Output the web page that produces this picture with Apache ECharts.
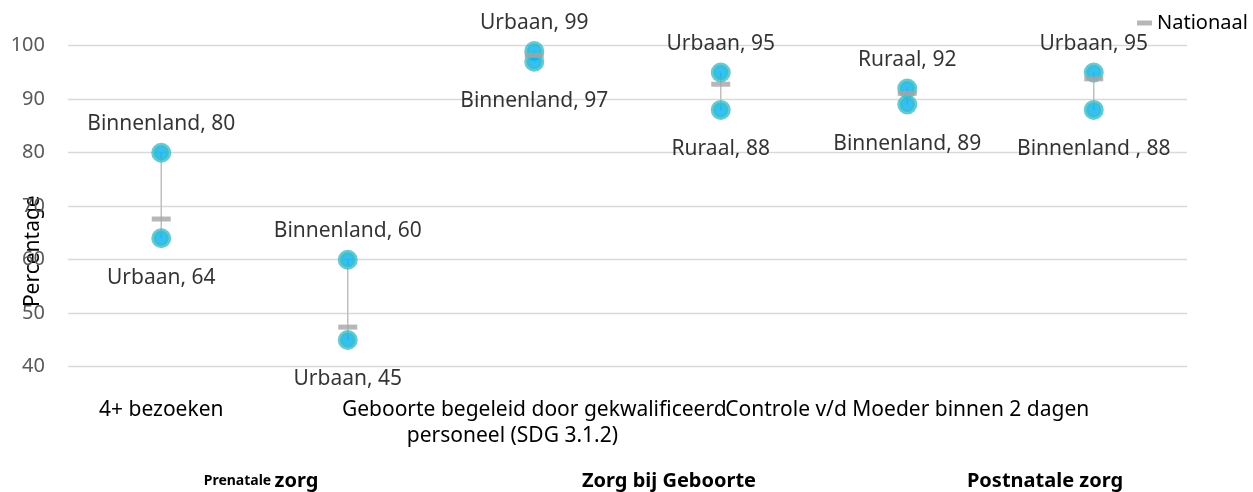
<!DOCTYPE html>
<html>
<head>
<meta charset="utf-8">
<script src="https://cdn.jsdelivr.net/npm/echarts@6/dist/echarts.min.js"></script>
<style>
  html, body { margin: 0; padding: 0; background: #fff; }
  #main { width: 1253px; height: 492px; }
</style>
</head>
<body>
<div id="main"></div>
<script>
// six indicators; only every other one carries a label on the axis
var categories = ['4+ bezoeken', '', 'Geboorte begeleid door gekwalificeerd\npersoneel (SDG 3.1.2)\u00a0\u00a0\u00a0\u00a0\u00a0\u00a0\u00a0\u00a0', '', 'Controle v/d Moeder binnen 2 dagen', ''];
var highValues = [80, 60, 99, 95, 92, 95];
var highNames = ['Binnenland', 'Binnenland', 'Urbaan', 'Urbaan', 'Ruraal', 'Urbaan'];
var lowValues = [64, 45, 97, 88, 89, 88];
var lowNames = ['Urbaan', 'Urbaan', 'Binnenland', 'Ruraal', 'Binnenland', 'Binnenland '];
var nationaal = [67.6, 47.4, 98.2, 92.8, 91.1, 93.8];
var groupLabels = ['Prenatale zorg', 'Zorg bij Geboorte', 'Postnatale zorg'];

var FONT = '"Noto Sans", sans-serif';

var rangeData = categories.map(function (c, i) { return [i, lowValues[i], highValues[i]]; });

var myChart = echarts.init(document.getElementById('main'));

var pointStyle = {
    color: '#00b0f0',
    borderColor: '#3dbdcc',
    borderWidth: 5
};

myChart.setOption({
    animation: false,
    textStyle: { fontFamily: FONT },
    grid: { left: 68, right: 66, top: 45.7, bottom: 125.3, outerBoundsMode: 'none' },
    legend: {
        data: ['Nationaal'],
        left: 1132,
        top: 8,
        itemWidth: 15,
        itemHeight: 5,
        itemGap: 5,
        icon: 'rect',
        textStyle: { fontFamily: FONT, fontSize: 20, color: '#000' }
    },
    xAxis: {
        type: 'category',
        data: categories,
        axisLine: { show: false },
        axisTick: { show: false },
        axisLabel: {
            interval: 0,
            hideOverlap: false,
            margin: 30,
            fontFamily: FONT,
            fontSize: 21,
            lineHeight: 26,
            color: '#000'
        }
    },
    yAxis: {
        type: 'value',
        min: 40,
        max: 100,
        interval: 10,
        name: 'Percentage',
        nameLocation: 'middle',
        nameRotate: 90,
        nameGap: 24,
        nameMoveOverlap: false,
        nameTextStyle: { fontFamily: FONT, fontSize: 21, color: '#000', padding: [0, 90, 0, 0] },
        axisLine: { show: false },
        axisTick: { show: false },
        axisLabel: { fontFamily: FONT, fontSize: 20, color: '#595959', margin: 23 },
        splitLine: { lineStyle: { color: '#d9d9d9', width: 1.3 } }
    },
    series: [
        {
            name: 'range',
            type: 'custom',
            data: rangeData,
            renderItem: function (params, api) {
                var p1 = api.coord([api.value(0), api.value(1)]);
                var p2 = api.coord([api.value(0), api.value(2)]);
                return {
                    type: 'line',
                    shape: { x1: p1[0], y1: p1[1], x2: p2[0], y2: p2[1] },
                    style: { stroke: '#bfbfbf', lineWidth: 1.5 }
                };
            },
            silent: true
        },
        {
            name: 'hoog',
            type: 'scatter',
            data: highValues,
            symbol: 'circle',
            symbolSize: 15,
            itemStyle: pointStyle,
            label: {
                show: true,
                position: 'top',
                distance: 8,
                fontFamily: FONT,
                fontSize: 21,
                color: '#000',
                formatter: function (p) { return highNames[p.dataIndex] + ', ' + p.value; }
            }
        },
        {
            name: 'laag',
            type: 'scatter',
            data: lowValues,
            symbol: 'circle',
            symbolSize: 15,
            itemStyle: pointStyle,
            label: {
                show: true,
                position: 'bottom',
                distance: 19,
                fontFamily: FONT,
                fontSize: 21,
                color: '#000',
                formatter: function (p) { return lowNames[p.dataIndex] + ', ' + p.value; }
            }
        },
        {
            name: 'Nationaal',
            type: 'scatter',
            data: nationaal,
            symbol: 'rect',
            symbolSize: [19, 5],
            itemStyle: { color: '#a5a5a5' }
        }
    ],
    graphic: [
        { type: 'text', x: 261, y: 481, style: {
            text: '{s|' + groupLabels[0].split(' ')[0] + '} {b|' + groupLabels[0].split(' ')[1] + '}',
            textAlign: 'center', textVerticalAlign: 'middle',
            rich: {
                s: { fontFamily: FONT, fontSize: 14, fontWeight: 'bold', fill: '#000' },
                b: { fontFamily: FONT, fontSize: 20, fontWeight: 'bold', fill: '#000' }
            }
        } },
        { type: 'text', x: 669, y: 481, style: { text: groupLabels[1], font: 'bold 20px ' + FONT, fill: '#000', textAlign: 'center', textVerticalAlign: 'middle' } },
        { type: 'text', x: 1045, y: 481, style: { text: groupLabels[2], font: 'bold 20px ' + FONT, fill: '#000', textAlign: 'center', textVerticalAlign: 'middle' } }
    ]
});
</script>
</body>
</html>
